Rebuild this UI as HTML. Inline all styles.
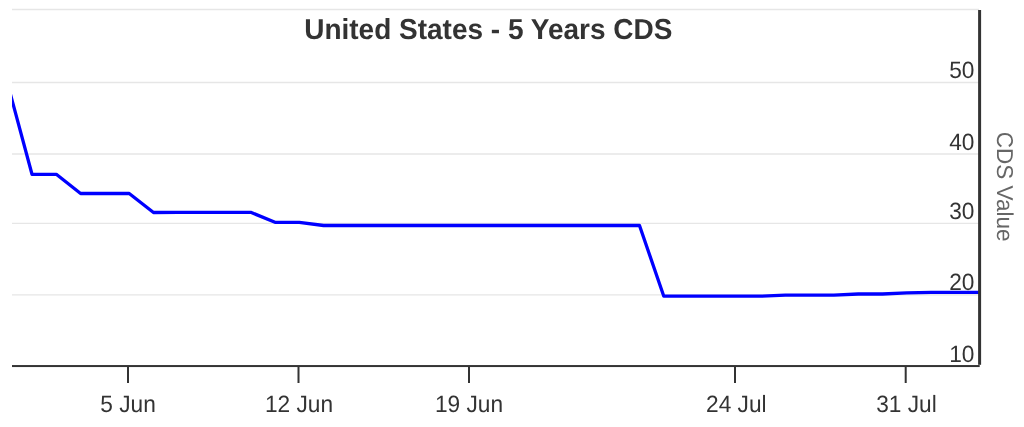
<!DOCTYPE html>
<html><head><meta charset="utf-8"><style>
html,body{margin:0;padding:0;background:#fff;}
svg{display:block;will-change:transform;}
text{font-family:"Liberation Sans",sans-serif;text-rendering:geometricPrecision;}
</style></head><body>
<svg width="1024" height="427" viewBox="0 0 1024 427">
<rect x="0" y="0" width="1024" height="427" fill="#fff"/>
<defs><clipPath id="pc"><rect x="12" y="0" width="967" height="427"/></clipPath></defs>
<g stroke="#e6e6e6" stroke-width="1.4" fill="none">
<path d="M12 9.5H979M12 82.5H979M12 154H979M12 223.4H979M12 294.9H979"/>
</g>
<polyline clip-path="url(#pc)" points="7.7,84.0 32.0,174.3 56.3,174.3 80.6,193.5 104.9,193.5 129.2,193.5 153.5,212.5 177.8,212.3 202.1,212.3 226.4,212.3 250.7,212.3 275.0,222.3 299.3,222.3 323.6,225.5 347.9,225.5 372.2,225.5 396.5,225.5 420.8,225.5 445.1,225.5 469.4,225.5 493.7,225.5 518.0,225.5 542.3,225.5 566.6,225.5 590.9,225.5 615.2,225.5 639.5,225.5 663.8,296.2 688.1,296.2 712.4,296.2 736.7,296.2 761.0,296.2 785.3,295.2 809.6,295.2 833.9,295.2 858.2,294.0 882.5,294.0 906.8,292.8 931.1,292.4 955.4,292.4 979.7,292.4" fill="none" stroke="#0000ff" stroke-width="3.3" stroke-linejoin="round" stroke-linecap="round"/>
<rect x="12" y="365.05" width="967.7" height="2" fill="#333"/>
<rect x="978.1" y="10" width="3" height="354.8" fill="#333"/>
<g fill="#333">
<rect x="127" y="367" width="2" height="16"/>
<rect x="297.5" y="367" width="2" height="16"/>
<rect x="468" y="367" width="2" height="16"/>
<rect x="734" y="367" width="2" height="16"/>
<rect x="904.7" y="367" width="2" height="16"/>
</g>
<g fill="#333">
<text transform="translate(488.3,39) scale(1,1.03)" text-anchor="middle" font-size="28" font-weight="bold">United States - 5 Years CDS</text>
<text transform="translate(974.4,78.0) scale(1,1.04)" text-anchor="end" font-size="22.7" >50</text>
<text transform="translate(974.4,149.6) scale(1,1.04)" text-anchor="end" font-size="22.7" >40</text>
<text transform="translate(974.4,218.9) scale(1,1.04)" text-anchor="end" font-size="22.7" >30</text>
<text transform="translate(974.4,289.7) scale(1,1.04)" text-anchor="end" font-size="22.7" >20</text>
<text transform="translate(974.4,361.6) scale(1,1.04)" text-anchor="end" font-size="22.7" >10</text>
<text transform="translate(128,412) scale(1,1.04)" text-anchor="middle" font-size="22.7" >5 Jun</text>
<text transform="translate(299,412) scale(1,1.04)" text-anchor="middle" font-size="22.7" >12 Jun</text>
<text transform="translate(469,412) scale(1,1.04)" text-anchor="middle" font-size="22.7" >19 Jun</text>
<text transform="translate(736.3,412) scale(1,1.04)" text-anchor="middle" font-size="22.7" >24 Jul</text>
<text transform="translate(906.5,412) scale(1,1.04)" text-anchor="middle" font-size="22.7" >31 Jul</text>
</g>
<text transform="translate(996.5,186.65) rotate(90) scale(1,1.02)" text-anchor="middle" font-size="22.5" fill="#666">CDS Value</text>
</svg>
</body></html>
